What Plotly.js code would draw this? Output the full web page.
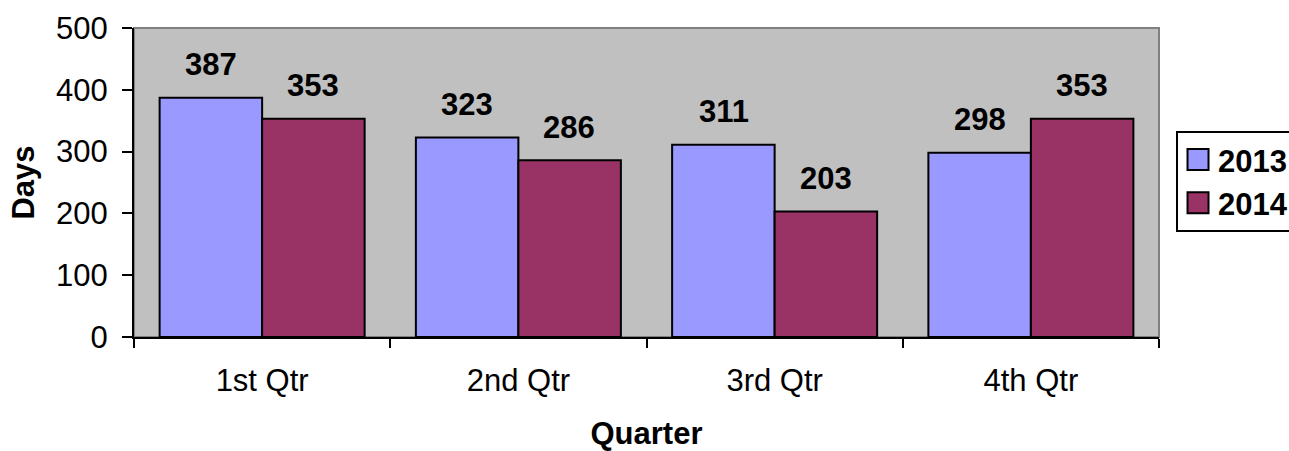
<!DOCTYPE html>
<html>
<head>
<meta charset="utf-8">
<script src="https://cdn.plot.ly/plotly-3.0.1.min.js"></script>
<style>html,body{margin:0;padding:0;background:#fff;}#chart{width:1289px;height:451px;}</style>
</head>
<body>
<div id="chart"></div>
<script>
const quarters = ["1st Qtr", "2nd Qtr", "3rd Qtr", "4th Qtr"];
const days2013 = [387, 323, 311, 298];
const days2014 = [353, 286, 203, 353];
const seriesNames = ["2013", "2014"];
const yTicks = [0, 100, 200, 300, 400, 500];

const FONT = "Liberation Sans, Arial, sans-serif";
const FS = 31;
const colors = ["#9999FF", "#993366"];

const traces = [days2013, days2014].map((vals, i) => ({
  type: "bar",
  name: seriesNames[i],
  x: quarters,
  y: vals,
  marker: {color: colors[i], line: {color: "#000000", width: 2}},
  legendgroup: "g" + i,
  hoverinfo: "skip"
}));

const annotations = [];
[days2013, days2014].forEach((vals, i) => {
  vals.forEach((v, j) => {
    annotations.push({
      x: quarters[j], y: v, xref: "x", yref: "y",
      text: "<b>" + v + "</b>", showarrow: false,
      xshift: i === 0 ? -51 : 51, yshift: 33, yanchor: "middle",
      font: {family: FONT, size: FS, color: "#000"}
    });
  });
});

const layout = {
  width: 1289, height: 451,
  margin: {l: 134, r: 130, t: 28, b: 114, autoexpand: false},
  paper_bgcolor: "#ffffff",
  plot_bgcolor: "#C0C0C0",
  barmode: "group",
  bargap: 0.2,
  bargroupgap: 0,
  font: {family: FONT, size: FS, color: "#000"},
  xaxis: {
    type: "category",
    tickson: "boundaries",
    ticks: "outside", ticklen: 9, tickwidth: 2, tickcolor: "#000",
    showline: true, linecolor: "#000", linewidth: 2,
    showgrid: false, zeroline: false,
    ticklabelstandoff: 15,
    tickfont: {family: FONT, size: FS},
    title: {text: "<b>Quarter</b>", font: {family: FONT, size: FS}, standoff: 33}
  },
  yaxis: {
    range: [0, 500],
    tickvals: yTicks,
    ticks: "outside", ticklen: 10, tickwidth: 2, tickcolor: "#000",
    showline: true, linecolor: "#000", linewidth: 2,
    showgrid: false, zeroline: false,
    ticklabelstandoff: 8,
    tickfont: {family: FONT, size: FS},
    title: {text: "<b>Days</b>", font: {family: FONT, size: FS}, standoff: 12}
  },
  shapes: [{
    type: "rect", xref: "paper", yref: "paper", x0: 0, x1: 1, y0: 0, y1: 1,
    line: {color: "#808080", width: 2}, layer: "below"
  }],
  legend: {
    x: 1.0166, y: 0.667, xanchor: "left", yanchor: "top",
    bordercolor: "#000", borderwidth: 2, bgcolor: "#fff",
    font: {family: FONT, size: FS, color: "#000", weight: "bold"},
    tracegroupgap: 0, itemwidth: 30
  },
  annotations: annotations,
  showlegend: true
};

Plotly.newPlot("chart", traces, layout, {staticPlot: true}).then(gd => {
  gd.querySelectorAll(".legendpoints path").forEach(p => {
    p.setAttribute("d", "M10.5,10.5H-10.5V-10.5H10.5Z");
  });
});
</script>
</body>
</html>
